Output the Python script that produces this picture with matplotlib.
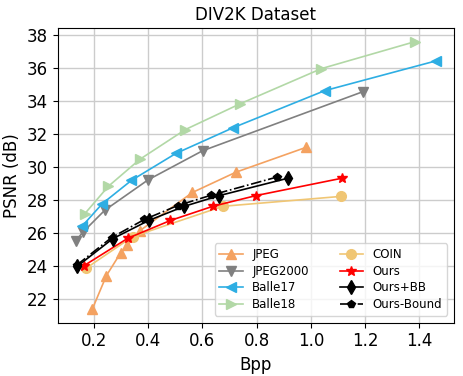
import matplotlib
matplotlib.use('Agg')
from matplotlib import pyplot as plt

jpeg_x = [0.195, 0.247, 0.299, 0.324, 0.369, 0.564, 0.724, 0.981]
jpeg_y = [21.36, 23.40, 24.77, 25.25, 26.11, 28.45, 29.68, 31.18]

j2k_x = [0.134, 0.161, 0.241, 0.401, 0.601, 1.192]
j2k_y = [25.51, 26.05, 27.37, 29.22, 30.98, 34.57]

b17_x = [0.158, 0.232, 0.339, 0.503, 0.715, 1.051, 1.461]
b17_y = [26.41, 27.77, 29.18, 30.82, 32.39, 34.63, 36.44]

b18_x = [0.168, 0.254, 0.370, 0.538, 0.739, 1.039, 1.382]
b18_y = [27.17, 28.82, 30.46, 32.27, 33.83, 35.97, 37.60]

coin_x = [0.173, 0.344, 0.676, 1.110]
coin_y = [23.86, 25.77, 27.61, 28.21]

ours_x = [0.164, 0.326, 0.483, 0.639, 0.798, 1.116]
ours_y = [24.00, 25.67, 26.75, 27.61, 28.26, 29.32]

bb_x = [0.140, 0.271, 0.403, 0.534, 0.663, 0.917]
bb_y = [23.97, 25.65, 26.75, 27.61, 28.26, 29.32]

bound_x = [0.138, 0.266, 0.387, 0.509, 0.632, 0.874]
bound_y = [24.04, 25.71, 26.81, 27.65, 28.28, 29.38]

fig = plt.figure(figsize=(4.63, 3.76), dpi=100)
ax = fig.add_axes([0.1246, 0.142, 0.856, 0.7825])

ax.plot(jpeg_x, jpeg_y, '-^', color='#f4a261', label='JPEG', ms=7, lw=1.2)
ax.plot(j2k_x, j2k_y, '-v', color='#808080', label='JPEG2000', ms=7, lw=1.2)
ax.plot(b17_x, b17_y, '-<', color='#2eaee3', label='Balle17', ms=7, lw=1.2)
ax.plot(b18_x, b18_y, '->', color='#b2d8a6', label='Balle18', ms=7, lw=1.2)
ax.plot(coin_x, coin_y, '-o', color='#f0c674', label='COIN', ms=7, lw=1.2)
ax.plot(ours_x, ours_y, '-*', color='red', label='Ours', ms=7, lw=1.2)
ax.plot(bb_x, bb_y, '-d', color='black', label='Ours+BB', ms=7, lw=1.2)
ax.plot(bound_x, bound_y, '-.p', color='black', label='Ours-Bound', ms=6, lw=1.2)

ax.grid(True, color='#cccccc', lw=1)
ax.set_axisbelow(True)
ax.set_yticks([22, 24, 26, 28, 30, 32, 34, 36, 38])
ax.set_xticks([0.2, 0.4, 0.6, 0.8, 1.0, 1.2, 1.4])
ax.tick_params(labelsize=12)
ax.set_xlabel('Bpp', fontsize=12)
ax.set_ylabel('PSNR (dB)', fontsize=12)
ax.set_title('DIV2K Dataset', fontsize=12)
ax.legend(ncol=2, loc='lower right', fontsize=8.5, labelspacing=0.3,
          columnspacing=2.6, borderaxespad=0.6)

plt.savefig('out.png', dpi=100)
